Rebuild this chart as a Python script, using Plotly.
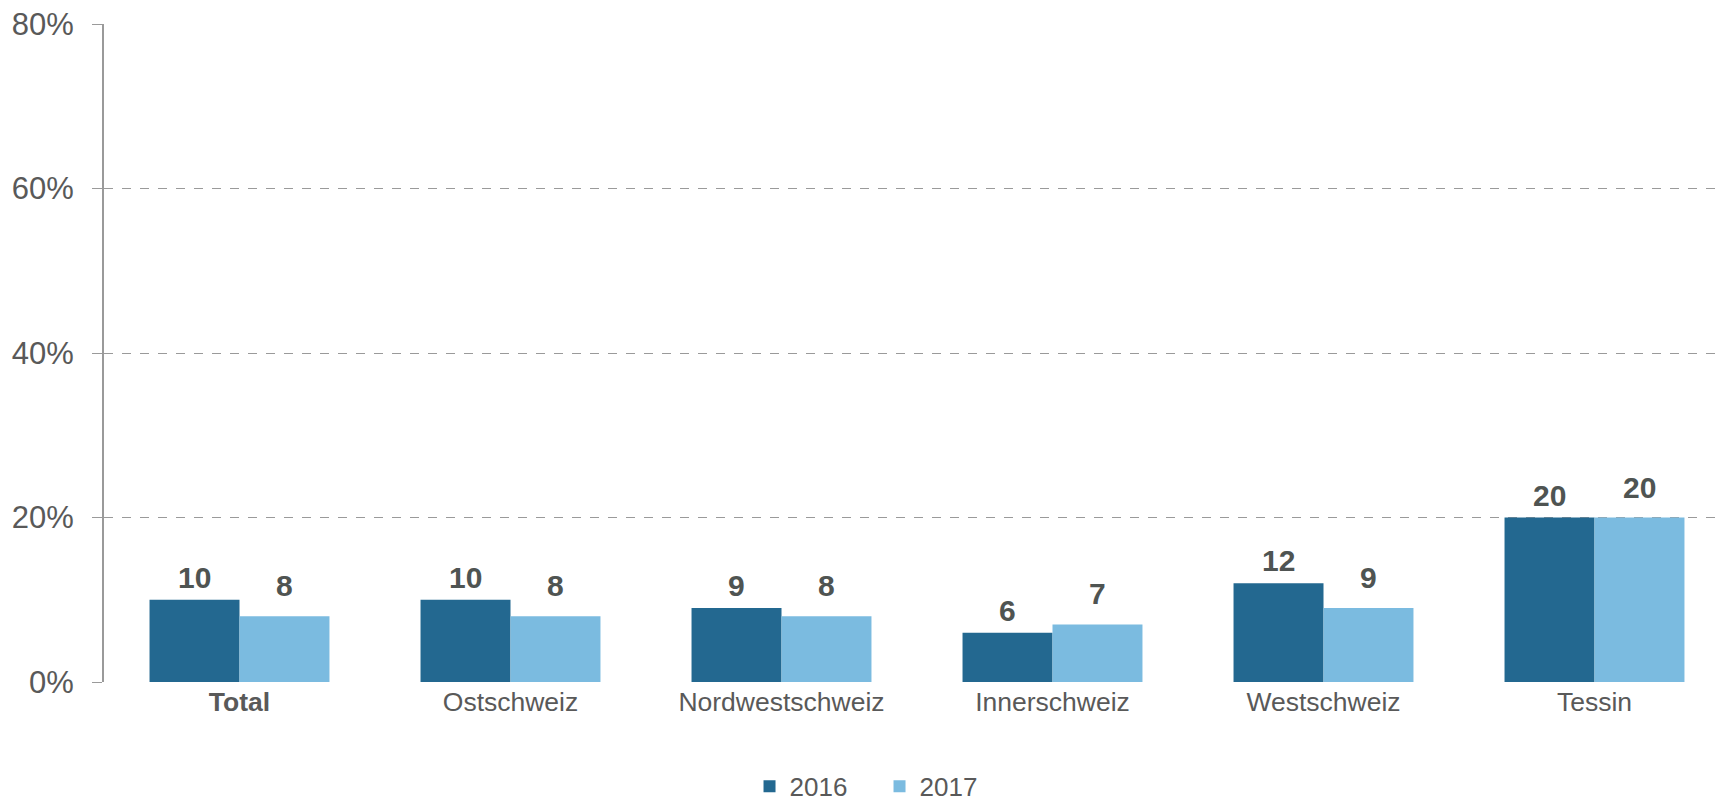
import plotly.graph_objects as go

categories = ["Total", "Ostschweiz", "Nordwestschweiz", "Innerschweiz", "Westschweiz", "Tessin"]
tick_labels = ["<b>Total</b>", "Ostschweiz", "Nordwestschweiz", "Innerschweiz", "Westschweiz", "Tessin"]
series_names = ["2016", "2017"]
values_2016 = [10, 10, 9, 6, 12, 20]
values_2017 = [8, 8, 8, 7, 9, 20]
y_ticks = [0, 20, 40, 60, 80]
y_tick_labels = ["0%", "20%", "40%", "60%", "80%"]

colors = ["#236890", "#7BBBE0"]
text_grey = "#595959"
label_grey = "#4F5452"
FONT = "Liberation Sans, Arial, sans-serif"

fig = go.Figure()
for name, vals, col in zip(series_names, [values_2016, values_2017], colors):
    fig.add_trace(go.Bar(
        x=categories, y=vals, name=name,
        marker=dict(color=col, line=dict(width=0)),
    ))

annotations = []
for vals, xs, ys in [(values_2016, -45, 4), (values_2017, 45, 12)]:
    for c, v in zip(categories, vals):
        annotations.append(dict(
            x=c, y=v, xref="x", yref="y", text=f"<b>{v}</b>",
            showarrow=False, xshift=xs, yshift=ys, yanchor="bottom",
            font=dict(family=FONT, size=30, color=label_grey),
        ))

fig.update_layout(
    width=1723, height=795,
    margin=dict(l=96, r=1, t=16, b=121, autoexpand=False),
    paper_bgcolor="white", plot_bgcolor="white",
    barmode="group", bargap=0.336, bargroupgap=0,
    font=dict(family=FONT, color=text_grey),
    showlegend=True,
    legend=dict(
        orientation="h", x=0.397, xanchor="left", y=-0.123, yanchor="top",
        font=dict(family=FONT, size=26, color=text_grey),
        entrywidth=85, entrywidthmode="pixels",
        itemwidth=30, tracegroupgap=0,
    ),
    annotations=annotations,
    xaxis=dict(
        tickmode="array", tickvals=categories, ticktext=tick_labels,
        tickfont=dict(family=FONT, size=26.5, color=text_grey),
        showline=False, showgrid=False, ticks="", zeroline=False, automargin=False,
        ticklabelstandoff=1,
    ),
    yaxis=dict(
        range=[0, 80], tickmode="array", tickvals=y_ticks, ticktext=y_tick_labels,
        tickfont=dict(family=FONT, size=31, color=text_grey),
        showgrid=True, gridcolor="#9A9A9A", griddash="dash", gridwidth=1,
        showline=True, linecolor="#9A9A9A", linewidth=2,
        ticks="outside", ticklen=10, tickcolor="#9A9A9A", tickwidth=1,
        ticklabelstandoff=12, zeroline=False, automargin=False,
        ticklabeloverflow="allow",
    ),
)

fig.write_html("out.html")
